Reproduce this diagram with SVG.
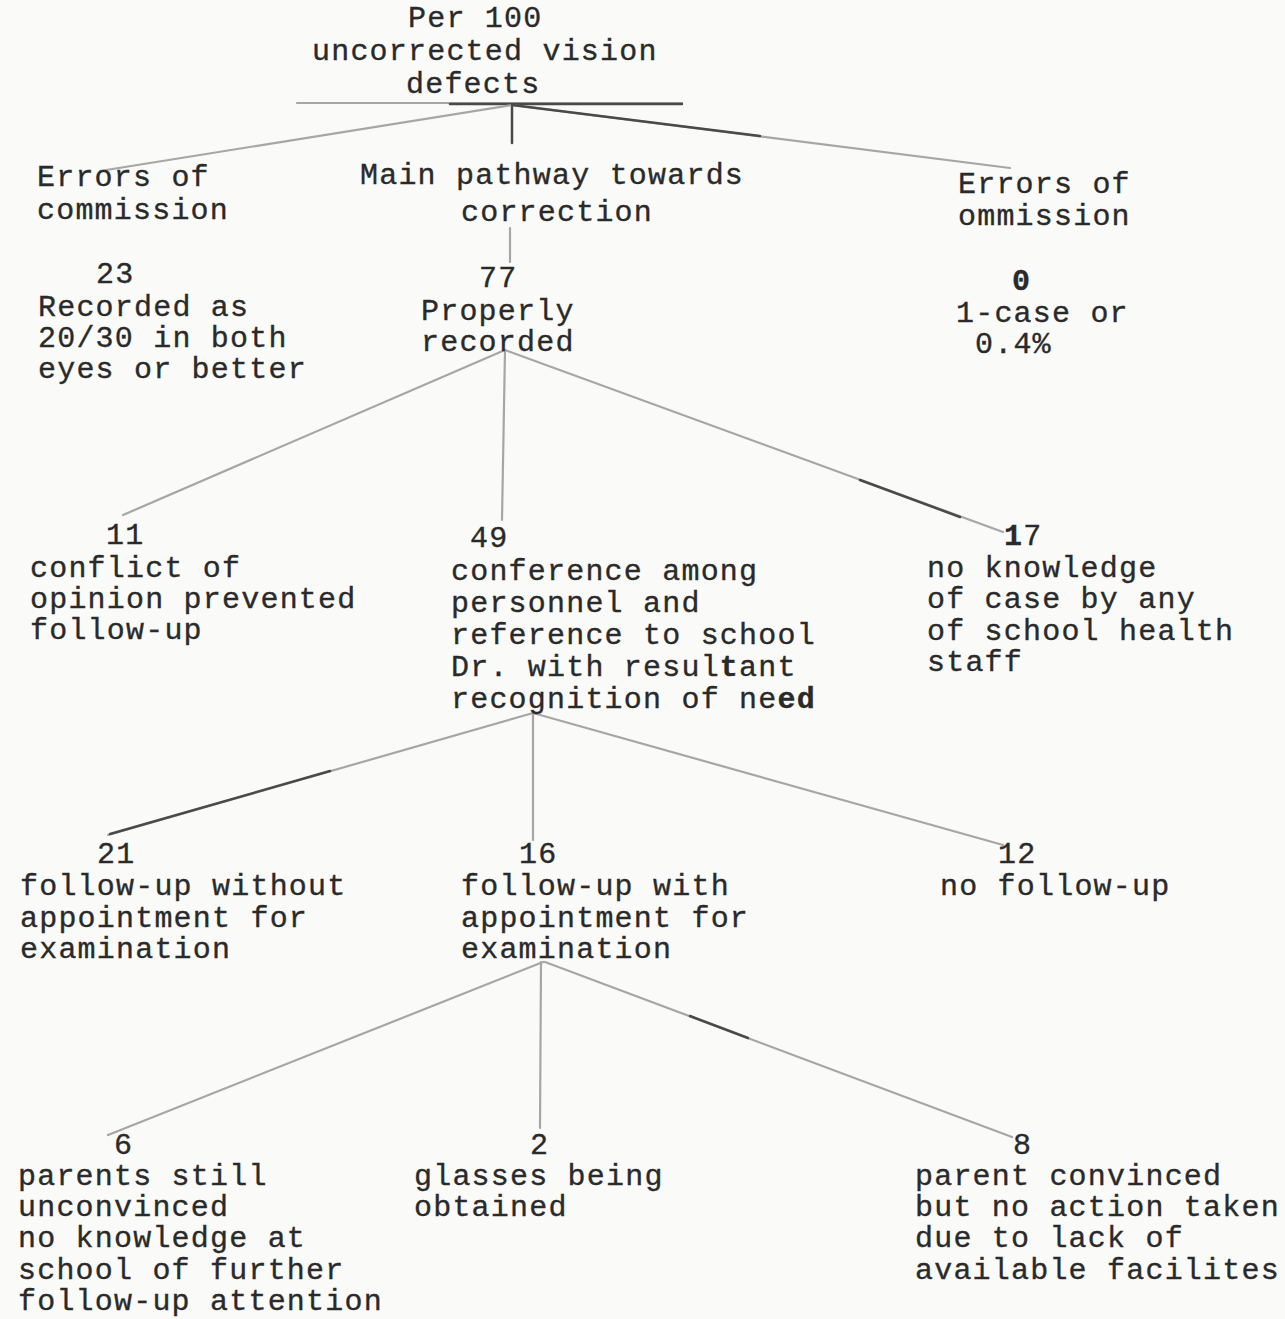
<svg xmlns="http://www.w3.org/2000/svg" width="1285" height="1319" viewBox="0 0 1285 1319">
<style>
text{font-family:"Liberation Mono","DejaVu Sans Mono",monospace;font-size:30px;letter-spacing:1.2px;fill:#2a2a2a;stroke:#2a2a2a;stroke-width:0.35}
.b{font-weight:bold}
.lt{stroke:#a6a6a6;stroke-width:2.2;fill:none;stroke-linecap:round}
.dk{stroke:#4a4a4a;stroke-width:2.5;fill:none;stroke-linecap:round}
</style>
<rect width="1285" height="1319" fill="#fafaf9"/>
<g id="connectors">
<line class="lt" x1="297" y1="103" x2="682" y2="103"/>
<line class="dk" x1="450" y1="104" x2="682" y2="104"/>
<line class="dk" x1="512" y1="105" x2="512" y2="143"/>
<line class="lt" x1="512" y1="105" x2="100" y2="171"/>
<line class="lt" x1="512" y1="105" x2="1010" y2="168"/>
<line class="dk" x1="512" y1="105" x2="760" y2="136"/>
<line class="lt" x1="510" y1="228" x2="510" y2="262"/>
<line class="lt" x1="505" y1="350" x2="123" y2="515"/>
<line class="lt" x1="505" y1="350" x2="502" y2="520"/>
<line class="lt" x1="505" y1="350" x2="1003" y2="532"/>
<line class="dk" x1="860" y1="480" x2="960" y2="517"/>
<line class="lt" x1="533" y1="713" x2="108" y2="835"/>
<line class="dk" x1="330" y1="771" x2="110" y2="834"/>
<line class="lt" x1="533" y1="713" x2="533" y2="840"/>
<line class="lt" x1="533" y1="713" x2="1003" y2="845"/>
<line class="lt" x1="543" y1="962" x2="108" y2="1135"/>
<line class="lt" x1="541" y1="962" x2="540" y2="1128"/>
<line class="lt" x1="545" y1="962" x2="1012" y2="1137"/>
<line class="dk" x1="690" y1="1016" x2="748" y2="1038"/>
</g>
<g id="root">
<text x="408" y="27">Per 100</text>
<text x="312" y="60">uncorrected vision</text>
<text x="406" y="93">defects</text>
</g>
<g id="commission">
<text x="37" y="186">Errors of</text>
<text x="37" y="219">commission</text>
</g>
<g id="main-pathway">
<text x="360" y="184">Main pathway towards</text>
<text x="461" y="221">correction</text>
</g>
<g id="ommission">
<text x="958" y="193">Errors of</text>
<text x="958" y="225">ommission</text>
</g>
<g id="n23">
<text x="96" y="283">23</text>
<text x="38" y="316">Recorded as</text>
<text x="38" y="347">20/30 in both</text>
<text x="38" y="378">eyes or better</text>
</g>
<g id="n77">
<text x="479" y="287">77</text>
<text x="421" y="320">Properly</text>
<text x="421" y="351">recorded</text>
</g>
<g id="n0">
<text x="1012" y="290" class="b">0</text>
<text x="956" y="322">1-case or</text>
<text x="975" y="353">0.4%</text>
</g>
<g id="n11">
<text x="106" y="544">11</text>
<text x="30" y="577">conflict of</text>
<text x="30" y="608">opinion prevented</text>
<text x="30" y="639">follow-up</text>
</g>
<g id="n49">
<text x="470" y="547">49</text>
<text x="451" y="580">conference among</text>
<text x="451" y="612">personnel and</text>
<text x="451" y="644">reference to school</text>
<text x="451" y="676">Dr. with resul<tspan class="b">t</tspan>ant</text>
<text x="451" y="708">recognition of ne<tspan class="b">ed</tspan></text>
</g>
<g id="n17">
<text x="1004" y="545"><tspan class="b">1</tspan>7</text>
<text x="927" y="577">no knowledge</text>
<text x="927" y="608">of case by any</text>
<text x="927" y="640">of school health</text>
<text x="927" y="671">staff</text>
</g>
<g id="n21">
<text x="97" y="863">21</text>
<text x="20" y="895">follow-up without</text>
<text x="20" y="927">appointment for</text>
<text x="20" y="958">examination</text>
</g>
<g id="n16">
<text x="519" y="863">16</text>
<text x="461" y="895">follow-up with</text>
<text x="461" y="927">appointment for</text>
<text x="461" y="958">examination</text>
</g>
<g id="n12">
<text x="998" y="863">12</text>
<text x="940" y="895">no follow-up</text>
</g>
<g id="n6">
<text x="114" y="1154">6</text>
<text x="18" y="1185">parents still</text>
<text x="18" y="1216">unconvinced</text>
<text x="18" y="1247">no knowledge at</text>
<text x="18" y="1279">school of further</text>
<text x="18" y="1310">follow-up attention</text>
</g>
<g id="n2">
<text x="530" y="1154">2</text>
<text x="414" y="1185">glasses being</text>
<text x="414" y="1216">obtained</text>
</g>
<g id="n8">
<text x="1013" y="1154">8</text>
<text x="915" y="1185">parent convinced</text>
<text x="915" y="1216">but no action taken</text>
<text x="915" y="1247">due to lack of</text>
<text x="915" y="1279">available facilites</text>
</g>
</svg>
